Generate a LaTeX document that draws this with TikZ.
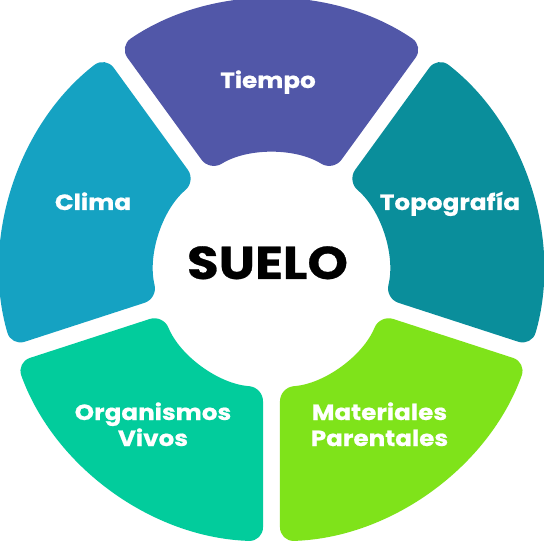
\documentclass[tikz,border=0pt]{standalone}
\usepackage{fontspec}
\setmainfont{Poppins}[FakeStretch=1.12, BoldFeatures={FakeBold=0.6}]
\definecolor{cTiempo}{HTML}{5157A8}
\definecolor{cTopo}{HTML}{0A8E9B}
\definecolor{cClima}{HTML}{15A2C2}
\definecolor{cOrg}{HTML}{02CC9C}
\definecolor{cMat}{HTML}{7FE31A}
\pgfmathsetmacro\Ro{271}
\pgfmathsetmacro\Ri{117}
\pgfmathsetmacro\hg{8.5}
\pgfmathsetmacro\dO{asin(\hg/\Ro)}
\pgfmathsetmacro\dI{asin(\hg/\Ri)}
\newcommand\ringsector[3]{%
  \fill[#3, rounded corners=14pt]
    ({#1+\dO}:\Ro pt) arc[start angle={#1+\dO}, end angle={#2-\dO}, radius=\Ro pt]
    -- ({#2-\dI}:\Ri pt) arc[start angle={#2-\dI}, end angle={#1+\dI}, radius=\Ri pt]
    -- cycle;}
\begin{document}
\begin{tikzpicture}[x=1pt,y=1pt,
  lbl/.style={text=white, font=\bfseries\fontsize{22}{26}\selectfont, align=center, inner sep=0pt},
  ttl/.style={text=black, font=\bfseries\fontsize{46}{50}\selectfont, inner sep=0pt}]
\useasboundingbox[fill=white] (-271.5,-272.5) rectangle (272.5,270.5);
\ringsector{-18}{54}{cTopo}
\ringsector{54}{126}{cTiempo}
\ringsector{126}{198}{cClima}
\ringsector{198}{270}{cOrg}
\ringsector{270}{342}{cMat}
\node[lbl, anchor=base] (tiempo) at (-3.5,182.5) {Tiempo};
\node[lbl, anchor=base] (topo) at (178.5,60.5) {Topografía};
\node[lbl, anchor=base] (clima) at (-178.5,60.5) {Clima};
\node[lbl, anchor=base] (org) at (-118.5,-175.5) {Organismos\\Vivos};
\node[lbl, anchor=base] (mat) at (108,-175.5) {Materiales\\Parentales};
\node[ttl, anchor=base] (suelo) at (-4,-8.5) {SUELO};
\end{tikzpicture}
\end{document}
